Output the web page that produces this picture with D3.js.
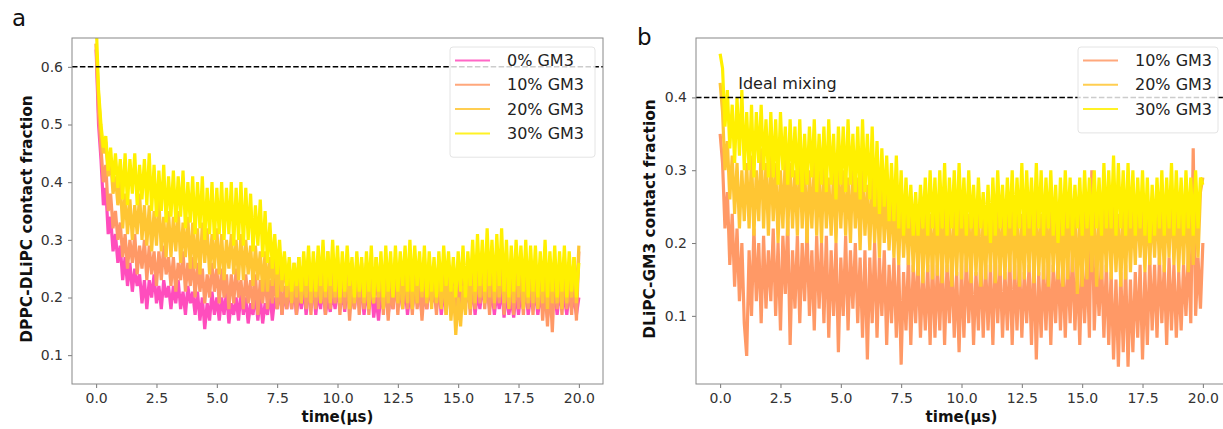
<!DOCTYPE html>
<html>
<head>
<meta charset="utf-8">
<script src="https://cdn.jsdelivr.net/npm/d3@7"></script>
<style>
  body { margin: 0; background: #fff; }
  text { font-family: "DejaVu Sans", sans-serif; }
</style>
</head>
<body>
<svg id="fig" width="1223" height="429"></svg>
<script>
// sampling step of the traces (µs)
var dt = 0.1;

var xTicks = [0, 2.5, 5, 7.5, 10, 12.5, 15, 17.5, 20];
var yTicksA = [0.1, 0.2, 0.3, 0.4, 0.5, 0.6];
var yTicksB = [0.1, 0.2, 0.3, 0.4];

var labelsA = ["0% GM3", "10% GM3", "20% GM3", "30% GM3"];
var labelsB = ["10% GM3", "20% GM3", "30% GM3"];
var colors = { "0% GM3": "#ff4dbd", "10% GM3": "#ff9966", "20% GM3": "#ffc633", "30% GM3": "#fff000" };

// reference lines
var idealA = 0.6;
var idealB = 0.4;

// panel a: DPPC-DLiPC contact fraction (one row per µs)
var dppc0 = [0.63,
  0.50,0.44,0.36,0.39,0.31,0.34,0.28,0.31,0.26,0.29,
  0.23,0.27,0.22,0.26,0.21,0.25,0.22,0.24,0.19,0.23,
  0.18,0.23,0.20,0.24,0.19,0.22,0.18,0.23,0.20,0.22,
  0.18,0.22,0.19,0.23,0.18,0.21,0.17,0.22,0.19,0.21,
  0.17,0.21,0.16,0.20,0.145,0.19,0.16,0.21,0.17,0.20,
  0.16,0.20,0.17,0.21,0.155,0.19,0.17,0.20,0.16,0.21,
  0.17,0.20,0.155,0.19,0.17,0.21,0.16,0.20,0.155,0.19,
  0.17,0.21,0.16,0.20,0.18,0.22,0.17,0.21,0.18,0.22,
  0.18,0.22,0.17,0.21,0.18,0.22,0.17,0.21,0.19,0.22,
  0.17,0.21,0.18,0.22,0.17,0.20,0.175,0.21,0.18,0.22,
  0.18,0.21,0.175,0.22,0.19,0.21,0.18,0.22,0.19,0.21,
  0.17,0.21,0.18,0.22,0.165,0.20,0.16,0.21,0.18,0.22,
  0.17,0.21,0.18,0.22,0.19,0.21,0.18,0.22,0.17,0.21,
  0.18,0.22,0.19,0.21,0.17,0.21,0.18,0.22,0.19,0.21,
  0.18,0.22,0.17,0.21,0.18,0.22,0.19,0.21,0.17,0.21,
  0.18,0.22,0.19,0.21,0.18,0.22,0.17,0.21,0.18,0.22,
  0.19,0.22,0.18,0.21,0.17,0.21,0.18,0.22,0.165,0.21,
  0.17,0.20,0.165,0.21,0.17,0.21,0.18,0.22,0.17,0.20,
  0.18,0.21,0.17,0.20,0.18,0.22,0.165,0.21,0.18,0.21,
  0.17,0.21,0.18,0.20,0.17,0.21,0.18,0.20,0.17,0.20];

var dppc10 = [0.64,
  0.52,0.46,0.40,0.43,0.35,0.38,0.32,0.35,0.30,0.33,
  0.27,0.31,0.25,0.30,0.26,0.31,0.24,0.29,0.25,0.30,
  0.23,0.29,0.24,0.28,0.22,0.28,0.23,0.29,0.24,0.27,
  0.22,0.27,0.21,0.26,0.23,0.28,0.21,0.26,0.22,0.27,
  0.20,0.26,0.21,0.25,0.19,0.24,0.20,0.26,0.21,0.25,
  0.19,0.25,0.20,0.24,0.18,0.24,0.19,0.25,0.20,0.23,
  0.18,0.24,0.19,0.23,0.18,0.24,0.17,0.23,0.19,0.24,
  0.18,0.23,0.19,0.24,0.18,0.23,0.17,0.22,0.18,0.23,
  0.18,0.24,0.17,0.23,0.19,0.25,0.18,0.23,0.17,0.24,
  0.18,0.24,0.19,0.23,0.17,0.25,0.18,0.23,0.19,0.24,
  0.17,0.23,0.18,0.24,0.16,0.22,0.18,0.24,0.17,0.23,
  0.18,0.24,0.17,0.23,0.19,0.25,0.18,0.24,0.17,0.23,
  0.16,0.22,0.18,0.24,0.17,0.23,0.19,0.25,0.18,0.23,
  0.17,0.24,0.18,0.23,0.16,0.22,0.18,0.24,0.19,0.23,
  0.17,0.24,0.18,0.25,0.17,0.23,0.18,0.24,0.16,0.23,
  0.18,0.24,0.19,0.25,0.17,0.23,0.18,0.25,0.19,0.24,
  0.18,0.24,0.17,0.25,0.18,0.24,0.19,0.26,0.17,0.24,
  0.18,0.23,0.17,0.24,0.18,0.24,0.17,0.23,0.18,0.24,
  0.17,0.23,0.18,0.24,0.16,0.22,0.15,0.23,0.14,0.24,
  0.18,0.23,0.17,0.24,0.18,0.23,0.17,0.25,0.16,0.28];

var dppc20 = [0.64,
  0.55,0.49,0.45,0.47,0.41,0.44,0.38,0.41,0.36,0.40,
  0.32,0.38,0.31,0.37,0.30,0.36,0.31,0.38,0.30,0.36,
  0.29,0.36,0.28,0.35,0.29,0.37,0.28,0.34,0.27,0.35,
  0.27,0.34,0.28,0.35,0.26,0.33,0.27,0.34,0.25,0.33,
  0.25,0.32,0.24,0.33,0.26,0.32,0.24,0.31,0.25,0.32,
  0.24,0.31,0.23,0.30,0.25,0.31,0.24,0.30,0.23,0.31,
  0.23,0.30,0.24,0.29,0.22,0.29,0.23,0.28,0.21,0.28,
  0.21,0.27,0.22,0.28,0.20,0.26,0.21,0.27,0.20,0.26,
  0.19,0.26,0.20,0.27,0.19,0.25,0.20,0.27,0.19,0.26,
  0.20,0.27,0.19,0.26,0.20,0.28,0.19,0.26,0.20,0.27,
  0.19,0.26,0.20,0.27,0.18,0.25,0.19,0.27,0.20,0.26,
  0.19,0.26,0.18,0.25,0.19,0.27,0.20,0.26,0.18,0.25,
  0.19,0.26,0.20,0.27,0.19,0.25,0.18,0.26,0.19,0.27,
  0.18,0.25,0.19,0.26,0.20,0.27,0.19,0.25,0.18,0.26,
  0.19,0.26,0.18,0.25,0.17,0.24,0.16,0.22,0.135,0.20,
  0.15,0.22,0.17,0.24,0.18,0.26,0.19,0.27,0.20,0.28,
  0.19,0.27,0.20,0.28,0.19,0.26,0.20,0.27,0.19,0.26,
  0.18,0.26,0.19,0.27,0.20,0.26,0.18,0.25,0.19,0.26,
  0.19,0.26,0.18,0.25,0.19,0.27,0.18,0.26,0.19,0.25,
  0.19,0.26,0.18,0.27,0.19,0.25,0.20,0.27,0.19,0.29];

var dppc30 = [0.68,
  0.56,0.50,0.46,0.48,0.42,0.46,0.40,0.45,0.39,0.44,
  0.37,0.45,0.36,0.44,0.38,0.45,0.36,0.43,0.37,0.44,
  0.36,0.45,0.35,0.43,0.34,0.42,0.35,0.43,0.33,0.41,
  0.34,0.42,0.33,0.41,0.34,0.42,0.32,0.40,0.33,0.41,
  0.31,0.40,0.32,0.41,0.30,0.39,0.31,0.40,0.30,0.39,
  0.31,0.40,0.30,0.39,0.31,0.40,0.29,0.39,0.30,0.40,
  0.29,0.39,0.30,0.38,0.28,0.36,0.29,0.37,0.27,0.35,
  0.26,0.33,0.25,0.31,0.24,0.30,0.23,0.28,0.22,0.27,
  0.21,0.26,0.22,0.27,0.21,0.28,0.22,0.29,0.21,0.28,
  0.21,0.29,0.22,0.30,0.21,0.28,0.22,0.30,0.21,0.29,
  0.20,0.28,0.21,0.29,0.22,0.27,0.20,0.28,0.21,0.27,
  0.20,0.28,0.21,0.29,0.20,0.27,0.21,0.28,0.20,0.29,
  0.21,0.28,0.20,0.29,0.21,0.28,0.22,0.29,0.21,0.30,
  0.21,0.29,0.22,0.28,0.21,0.29,0.20,0.28,0.21,0.27,
  0.20,0.28,0.21,0.29,0.22,0.28,0.21,0.27,0.20,0.28,
  0.21,0.29,0.20,0.28,0.22,0.30,0.21,0.31,0.22,0.30,
  0.21,0.32,0.22,0.30,0.21,0.31,0.22,0.32,0.21,0.30,
  0.20,0.29,0.21,0.30,0.22,0.29,0.21,0.30,0.20,0.29,
  0.21,0.29,0.20,0.28,0.21,0.30,0.20,0.28,0.21,0.29,
  0.20,0.28,0.21,0.29,0.20,0.28,0.21,0.27,0.20,0.26];

// panel b: DLiPC-GM3 contact fraction
var gm10 = [0.35,
  0.31,0.22,0.27,0.17,0.24,0.14,0.22,0.12,0.20,0.09,
  0.045,0.19,0.10,0.22,0.12,0.20,0.09,0.21,0.11,0.19,
  0.12,0.22,0.10,0.20,0.08,0.21,0.13,0.23,0.06,0.19,
  0.11,0.21,0.09,0.20,0.12,0.22,0.10,0.19,0.08,0.21,
  0.11,0.20,0.09,0.21,0.07,0.19,0.10,0.20,0.05,0.18,
  0.10,0.21,0.08,0.19,0.11,0.20,0.09,0.18,0.07,0.19,
  0.04,0.18,0.09,0.20,0.07,0.18,0.10,0.19,0.06,0.17,
  0.09,0.18,0.07,0.17,0.033,0.16,0.08,0.18,0.06,0.17,
  0.09,0.18,0.07,0.16,0.08,0.17,0.06,0.18,0.07,0.17,
  0.08,0.18,0.06,0.17,0.09,0.18,0.07,0.16,0.05,0.17,
  0.07,0.18,0.09,0.17,0.06,0.16,0.08,0.18,0.07,0.17,
  0.08,0.17,0.06,0.18,0.09,0.17,0.07,0.16,0.08,0.18,
  0.06,0.17,0.08,0.18,0.07,0.16,0.09,0.17,0.06,0.18,
  0.04,0.16,0.07,0.17,0.08,0.18,0.06,0.17,0.09,0.18,
  0.08,0.17,0.07,0.18,0.09,0.19,0.08,0.17,0.06,0.18,
  0.09,0.18,0.07,0.30,0.08,0.17,0.10,0.18,0.07,0.17,
  0.06,0.16,0.04,0.15,0.03,0.16,0.05,0.17,0.03,0.15,
  0.05,0.16,0.07,0.17,0.04,0.16,0.06,0.18,0.08,0.17,
  0.07,0.18,0.09,0.17,0.06,0.18,0.08,0.17,0.07,0.16,
  0.08,0.17,0.10,0.19,0.09,0.33,0.10,0.18,0.11,0.20];

var gm20 = [0.42,
  0.38,0.30,0.34,0.26,0.32,0.24,0.31,0.22,0.30,0.23,
  0.31,0.22,0.32,0.21,0.30,0.23,0.33,0.22,0.31,0.21,
  0.32,0.23,0.31,0.20,0.30,0.22,0.32,0.21,0.31,0.22,
  0.30,0.21,0.32,0.22,0.31,0.20,0.30,0.22,0.31,0.21,
  0.30,0.20,0.31,0.22,0.29,0.21,0.30,0.20,0.31,0.22,
  0.30,0.21,0.29,0.20,0.31,0.22,0.29,0.19,0.30,0.21,
  0.28,0.19,0.29,0.20,0.28,0.18,0.29,0.20,0.27,0.19,
  0.27,0.18,0.26,0.17,0.27,0.18,0.25,0.17,0.26,0.16,
  0.25,0.155,0.26,0.145,0.25,0.16,0.24,0.15,0.25,0.155,
  0.26,0.145,0.25,0.16,0.24,0.14,0.25,0.155,0.26,0.15,
  0.25,0.16,0.24,0.145,0.26,0.155,0.25,0.14,0.24,0.15,
  0.25,0.16,0.26,0.145,0.25,0.155,0.24,0.15,0.25,0.16,
  0.26,0.15,0.25,0.14,0.24,0.15,0.25,0.16,0.26,0.145,
  0.25,0.155,0.24,0.15,0.25,0.14,0.26,0.16,0.25,0.15,
  0.24,0.14,0.25,0.15,0.26,0.16,0.25,0.13,0.24,0.14,
  0.25,0.15,0.26,0.16,0.25,0.14,0.24,0.15,0.25,0.16,
  0.26,0.15,0.25,0.16,0.24,0.14,0.25,0.15,0.26,0.16,
  0.25,0.17,0.26,0.18,0.25,0.16,0.26,0.17,0.25,0.18,
  0.26,0.17,0.25,0.16,0.26,0.18,0.27,0.17,0.25,0.16,
  0.26,0.17,0.27,0.16,0.26,0.17,0.25,0.18,0.27,0.29];

var gm30 = [0.46,
  0.44,0.36,0.41,0.33,0.39,0.31,0.40,0.32,0.41,0.30,
  0.38,0.30,0.39,0.29,0.38,0.31,0.39,0.30,0.37,0.29,
  0.38,0.29,0.37,0.28,0.38,0.30,0.36,0.28,0.37,0.29,
  0.36,0.28,0.37,0.27,0.35,0.28,0.36,0.29,0.37,0.27,
  0.35,0.28,0.36,0.27,0.37,0.28,0.35,0.26,0.36,0.28,
  0.36,0.27,0.37,0.28,0.35,0.27,0.36,0.26,0.37,0.27,
  0.35,0.26,0.36,0.25,0.34,0.24,0.33,0.25,0.32,0.23,
  0.31,0.23,0.32,0.22,0.30,0.21,0.29,0.22,0.28,0.21,
  0.27,0.21,0.28,0.22,0.29,0.21,0.30,0.22,0.29,0.21,
  0.30,0.22,0.31,0.21,0.29,0.22,0.30,0.21,0.31,0.22,
  0.29,0.21,0.30,0.22,0.28,0.21,0.29,0.22,0.27,0.21,
  0.28,0.20,0.29,0.21,0.30,0.22,0.28,0.21,0.29,0.22,
  0.30,0.21,0.29,0.22,0.31,0.21,0.30,0.22,0.29,0.21,
  0.31,0.22,0.30,0.21,0.29,0.22,0.30,0.21,0.28,0.20,
  0.29,0.21,0.30,0.22,0.29,0.21,0.28,0.22,0.29,0.21,
  0.30,0.22,0.29,0.21,0.30,0.22,0.29,0.21,0.31,0.22,
  0.30,0.22,0.32,0.21,0.31,0.22,0.30,0.21,0.31,0.22,
  0.30,0.21,0.29,0.22,0.30,0.21,0.29,0.20,0.28,0.21,
  0.29,0.22,0.30,0.21,0.29,0.22,0.31,0.21,0.30,0.22,
  0.29,0.21,0.30,0.22,0.29,0.21,0.30,0.22,0.29,0.28];

var svg = d3.select("#fig");

function drawPanel(p) {
    var x = d3.scaleLinear().domain([-1, 21]).range([p.left, p.right]);
    var y = d3.scaleLinear().domain(p.yDomain).range([384, 38]);

    var clipId = "clip-" + p.letter;
    svg.append("clipPath").attr("id", clipId)
        .append("rect")
        .attr("x", p.left).attr("y", 38)
        .attr("width", p.right - p.left).attr("height", 346);

    var g = svg.append("g");

    // traces, first label drawn first so later ones sit on top
    var line = d3.line()
        .x(function(d, i) { return x(i * dt); })
        .y(function(d) { return y(d); });

    var traces = g.append("g").attr("clip-path", "url(#" + clipId + ")");
    p.series.forEach(function(s) {
        traces.append("path")
            .attr("d", line(s.values))
            .attr("fill", "none")
            .attr("stroke", colors[s.name])
            .attr("stroke-width", 3.2)
            .attr("stroke-linejoin", "miter")
            .attr("stroke-miterlimit", 3);
    });

    // dashed reference line
    traces.append("line")
        .attr("x1", p.left).attr("x2", p.right)
        .attr("y1", y(p.ideal)).attr("y2", y(p.ideal))
        .attr("stroke", "#000")
        .attr("stroke-width", 1.5)
        .attr("stroke-dasharray", "5.5,2.4");

    if (p.note) {
        g.append("text")
            .attr("x", x(0.75)).attr("y", y(0.412))
            .style("font-size", "16px")
            .style("fill", "#222")
            .text(p.note);
    }

    // axes
    var xAxis = d3.axisBottom(x).tickValues(xTicks).tickFormat(d3.format(".1f"))
        .tickSize(4).tickPadding(5);
    var yAxis = d3.axisLeft(y).tickValues(p.yTicks).tickFormat(d3.format(".1f"))
        .tickSize(4).tickPadding(5);

    var gx = g.append("g").attr("transform", "translate(0,384)").call(xAxis);
    var gy = g.append("g").attr("transform", "translate(" + p.left + ",0)").call(yAxis);
    [gx, gy].forEach(function(a) {
        a.select(".domain").remove();
        a.selectAll(".tick line").attr("stroke", "#777");
        a.selectAll(".tick text")
            .style("font-family", "DejaVu Sans, sans-serif")
            .style("font-size", "14px")
            .attr("fill", "#333");
    });

    // frame
    g.append("rect")
        .attr("x", p.left).attr("y", 38)
        .attr("width", p.right - p.left).attr("height", 346)
        .attr("fill", "none")
        .attr("stroke", "#888")
        .attr("stroke-width", 1);

    // axis titles
    g.append("text")
        .attr("transform", "translate(" + p.ylabelX + ",219) rotate(-90)")
        .attr("text-anchor", "middle")
        .style("font-size", "15.4px")
        .style("font-weight", "bold")
        .style("fill", "#111")
        .text(p.ylabel);

    g.append("text")
        .attr("x", (p.left + p.right) / 2).attr("y", 422)
        .attr("text-anchor", "middle")
        .style("font-size", "15px")
        .style("font-weight", "bold")
        .style("fill", "#111")
        .text("time(μs)");

    // panel letter
    g.append("text")
        .attr("x", p.letterX).attr("y", p.letterY)
        .style("font-size", "23px")
        .style("fill", "#111")
        .text(p.letter);

    // legend
    var lg = g.append("g");
    lg.append("rect")
        .attr("x", p.legend.x).attr("y", 47)
        .attr("width", p.legend.w).attr("height", 13 + p.series.length * 24.3)
        .attr("rx", 3)
        .attr("fill", "rgba(255,255,255,0.8)")
        .attr("stroke", "#e4e4e4");
    p.series.forEach(function(s, i) {
        var cy = 60.5 + i * 24.3;
        lg.append("line")
            .attr("x1", p.legend.x + 5).attr("x2", p.legend.x + 40)
            .attr("y1", cy).attr("y2", cy)
            .attr("stroke", colors[s.name])
            .attr("stroke-width", 2)
            .attr("opacity", 0.85);
        lg.append("text")
            .attr("x", p.legend.x + 57).attr("y", cy + 5.5)
            .style("font-size", "16px")
            .style("fill", "#222")
            .text(s.name);
    });
}

drawPanel({
    letter: "a", letterX: 12, letterY: 26,
    left: 72, right: 603,
    yDomain: [0.05, 0.65], yTicks: yTicksA,
    ideal: idealA,
    ylabel: "DPPC-DLiPC contact fraction", ylabelX: 32,
    legend: { x: 450, w: 145 },
    series: [
        { name: labelsA[0], values: dppc0 },
        { name: labelsA[1], values: dppc10 },
        { name: labelsA[2], values: dppc20 },
        { name: labelsA[3], values: dppc30 }
    ]
});

drawPanel({
    letter: "b", letterX: 637, letterY: 45,
    left: 696, right: 1227,
    yDomain: [0.0064, 0.4816], yTicks: yTicksB,
    ideal: idealB,
    note: "Ideal mixing",
    ylabel: "DLiPC-GM3 contact fraction", ylabelX: 655,
    legend: { x: 1078, w: 140 },
    series: [
        { name: labelsB[0], values: gm10 },
        { name: labelsB[1], values: gm20 },
        { name: labelsB[2], values: gm30 }
    ]
});
</script>
</body>
</html>
